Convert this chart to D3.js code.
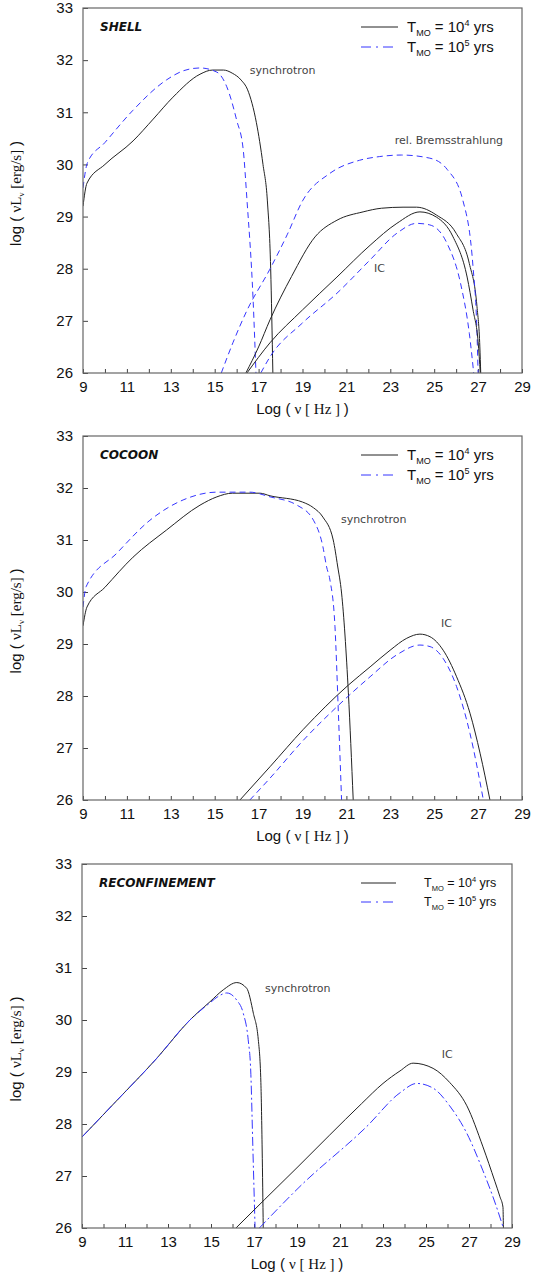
<!DOCTYPE html>
<html>
<head>
<meta charset="utf-8">
<script src="https://cdn.jsdelivr.net/npm/d3@7"></script>
<style>
  body { margin: 0; background: #fff; }
  svg { display: block; }
  .tick text { font-family: "Liberation Sans", Arial, sans-serif; font-size: 15px; fill: #111; }
  .tick line { stroke: #444; }
  .lbl { font-family: "DejaVu Sans", Verdana, sans-serif; font-size: 11px; fill: #444; }
  .ptitle { font-family: "DejaVu Sans", Verdana, sans-serif; font-size: 12px; font-weight: bold; font-style: italic; fill: #111; }
  .sans { font-family: "Liberation Sans", Arial, sans-serif; }
  .serif { font-family: "Liberation Serif", "Times New Roman", serif; }
</style>
</head>
<body>
<svg id="chart" width="533" height="1277"></svg>
<script>
// x = log nu [Hz], y = log nuL_nu [erg/s]
const xTicks = d3.range(9, 30);
const yTicks = d3.range(26, 34);
const panelTitles = ["SHELL", "COCOON", "RECONFINEMENT"];
const legendExp = [4, 5]; // T_MO = 10^4 yrs (solid), 10^5 yrs (blue)

// SHELL
const shellSync4 = [[9,29.2],[9.18,29.64],[10,30.0],[11.28,30.45],[12.2,30.87],[13.1,31.29],[14.33,31.73],[14.9,31.81],[15.4,31.81],[15.8,31.75],[16.2,31.62],[16.5,31.43],[16.9,30.8],[17.2,30.0],[17.4,29.3],[17.55,28.0],[17.65,26]];
const shellSync5 = [[9,29.55],[9.2,30.03],[10,30.42],[11.28,31.04],[12.8,31.62],[13.6,31.8],[14.33,31.85],[15.1,31.77],[15.55,31.49],[16.0,30.85],[16.3,30.28],[16.47,29.32],[16.75,27.4],[16.88,26]];
const shellBrem4 = [[16.42,26],[17.0,26.5],[17.52,27.02],[18.5,27.85],[19.57,28.61],[20.57,28.93],[21.76,29.09],[22.6,29.16],[23.58,29.18],[24.2,29.18],[25.1,29.03],[26.0,28.68],[26.6,28.1],[26.95,27.27],[27.08,26.5],[27.12,26]];
const shellBrem5 = [[15.3,26],[15.83,26.58],[16.47,27.2],[17.5,27.98],[18.3,28.65],[19.0,29.3],[20.25,29.83],[21.6,30.08],[22.5,30.15],[23.5,30.18],[24.8,30.12],[25.6,29.9],[26.3,29.32],[26.77,28.03],[26.95,26.76],[27.0,26]];
const shellIC4 = [[16.47,26],[17.52,26.58],[19.0,27.21],[20.57,27.84],[22.08,28.45],[23.3,28.87],[24.35,29.09],[25.1,28.99],[25.86,28.61],[26.5,27.84],[26.77,27.21],[27.0,26.6],[27.1,26]];
const shellIC5 = [[17.1,26],[17.52,26.31],[19.0,26.96],[20.57,27.53],[22.08,28.17],[23.3,28.68],[24.2,28.87],[24.8,28.84],[25.58,28.49],[26.2,27.72],[26.6,26.76],[26.8,26]];
const shellLabels = [["synchrotron",16.6,31.73],["rel. Bremsstrahlung",23.2,30.39],["IC",22.26,27.94]];

// COCOON
const cocoonSync4 = [[9,29.35],[9.18,29.71],[10,30.09],[11.28,30.67],[12.8,31.19],[14.33,31.67],[15.1,31.83],[15.8,31.9],[17.06,31.9],[17.52,31.85],[19.0,31.73],[19.5,31.62],[19.93,31.44],[20.4,31.0],[20.6,30.5],[20.78,29.98],[21.09,28.06],[21.31,26]];
const cocoonSync5 = [[9,29.71],[9.14,30.1],[10.55,30.75],[12.05,31.38],[13.56,31.77],[15.1,31.92],[16.6,31.92],[17.52,31.83],[18.75,31.67],[19.5,31.38],[19.93,30.87],[20.1,30.48],[20.25,30.23],[20.48,29.33],[20.63,27.73],[20.78,26]];
const cocoonIC4 = [[16.15,26],[17.52,26.64],[19.04,27.36],[21.09,28.21],[22.08,28.56],[22.99,28.88],[23.75,29.11],[24.35,29.19],[24.81,29.14],[25.41,28.88],[26.02,28.37],[26.63,27.67],[27.09,26.9],[27.54,26]];
const cocoonIC5 = [[16.6,26],[17.52,26.42],[19.04,27.15],[20.56,27.79],[22.08,28.37],[23.29,28.79],[24.35,28.98],[24.81,28.95],[25.41,28.72],[26.02,28.18],[26.63,27.28],[27.24,26]];
const cocoonLabels = [["synchrotron",20.75,31.33],["IC",25.31,29.33]];

// RECONFINEMENT
const reconSync4 = [[9,27.75],[10.5,28.4],[12.47,29.26],[14.02,30.0],[14.95,30.35],[15.57,30.58],[16.2,30.72],[16.66,30.61],[16.97,30.13],[17.2,29.62],[17.32,28.8],[17.38,27.5],[17.43,26]];
const reconSync5 = [[9,27.75],[10.5,28.4],[12.47,29.26],[14.02,30.0],[14.95,30.33],[15.4,30.47],[15.73,30.52],[16.2,30.38],[16.5,30.13],[16.73,29.62],[16.85,29.0],[16.95,27.5],[17.05,26]];
const reconIC4 = [[16.16,26],[17.5,26.55],[19.0,27.16],[20.5,27.78],[22.0,28.39],[23.0,28.78],[23.79,29.02],[24.4,29.17],[25.33,29.07],[26.1,28.8],[26.9,28.35],[27.65,27.56],[28.2,26.9],[28.44,26.6],[28.58,26.4],[28.6,26]];
const reconIC5 = [[17.25,26],[19.14,26.8],[22.24,27.95],[23.79,28.6],[24.57,28.78],[25.33,28.69],[26.1,28.35],[26.9,27.82],[27.65,27.1],[28.2,26.5],[28.6,26]];
const reconLabels = [["synchrotron",17.51,30.54],["IC",25.73,29.27]];

const BLACK = "#222", BLUE = "#3535ff";

const panels = [
  {title: panelTitles[0], left: 83, right: 522, top: 8, bottom: 373, dash: "6,4",
   curves: [[shellSync4,0],[shellSync5,1],[shellBrem4,0],[shellBrem5,1],[shellIC4,0],[shellIC5,1]],
   labels: shellLabels, legLine: [361, 398], legText: 407, legFont: 15, legRows: [19, 39]},
  {title: panelTitles[1], left: 83, right: 522, top: 436, bottom: 800, dash: "6,4",
   curves: [[cocoonSync4,0],[cocoonSync5,1],[cocoonIC4,0],[cocoonIC5,1]],
   labels: cocoonLabels, legLine: [361, 398], legText: 407, legFont: 15, legRows: [19, 39]},
  {title: panelTitles[2], left: 82, right: 512, top: 864, bottom: 1228, dash: "9,3,2,3",
   curves: [[reconSync4,0],[reconSync5,1],[reconIC4,0],[reconIC5,1]],
   labels: reconLabels, legLine: [361, 396], legText: 424, legFont: 12.5, legRows: [19, 38]}
];

const svg = d3.select("#chart");

panels.forEach((p, i) => drawPanel(p, i));

function drawPanel(p, i) {
  const x = d3.scaleLinear().domain([9, 29]).range([p.left, p.right]);
  const y = d3.scaleLinear().domain([26, 33]).range([p.bottom, p.top]);
  const g = svg.append("g");

  g.append("defs").append("clipPath")
    .attr("id", "clip" + i)
    .append("rect")
    .attr("x", p.left).attr("y", p.top)
    .attr("width", p.right - p.left).attr("height", p.bottom - p.top);

  // axes, ticks inward
  g.append("g")
    .attr("transform", `translate(0,${p.bottom})`)
    .call(d3.axisBottom(x).tickValues(xTicks).tickSize(-4).tickPadding(8)
      .tickFormat(d => d % 2 ? d : ""))
    .call(a => a.select(".domain").remove());

  g.append("g")
    .attr("transform", `translate(${p.left},0)`)
    .call(d3.axisLeft(y).tickValues(yTicks).tickSize(-5).tickPadding(10)
      .tickFormat(d3.format("d")))
    .call(a => a.select(".domain").remove());

  // curves
  const line = d3.line()
    .x(d => x(d[0]))
    .y(d => y(d[1]))
    .curve(d3.curveMonotoneX);

  g.append("g").attr("clip-path", `url(#clip${i})`)
    .selectAll("path")
    .data(p.curves)
    .join("path")
    .attr("d", d => line(d[0]))
    .attr("fill", "none")
    .attr("stroke", d => d[1] ? BLUE : BLACK)
    .attr("stroke-width", 1)
    .attr("stroke-dasharray", d => d[1] ? p.dash : null);

  // frame
  g.append("rect")
    .attr("x", p.left).attr("y", p.top)
    .attr("width", p.right - p.left).attr("height", p.bottom - p.top)
    .attr("fill", "none")
    .attr("stroke", "#666")
    .attr("stroke-width", 1.2);

  // curve labels
  g.selectAll(".lbl")
    .data(p.labels)
    .join("text")
    .attr("class", "lbl")
    .attr("x", d => x(d[1]))
    .attr("y", d => y(d[2]))
    .text(d => d[0]);

  // panel title
  g.append("text")
    .attr("class", "ptitle")
    .attr("x", p.left + 17)
    .attr("y", p.top + 23)
    .text(p.title);

  // legend
  legendExp.forEach((e, k) => {
    const ry = p.top + p.legRows[k];
    g.append("line")
      .attr("x1", p.legLine[0]).attr("x2", p.legLine[1])
      .attr("y1", ry).attr("y2", ry)
      .attr("stroke", k ? BLUE : BLACK)
      .attr("stroke-width", 1)
      .attr("stroke-dasharray", k ? "10,5,2,5" : null);
    const fs = p.legFont, small = fs * 0.6;
    const t = g.append("text")
      .attr("class", "sans")
      .attr("x", p.legText)
      .attr("y", ry + fs * 0.35)
      .attr("font-size", fs)
      .attr("fill", "#111");
    t.append("tspan").text("T");
    t.append("tspan").attr("font-size", small).attr("dy", fs * 0.28).text("MO");
    t.append("tspan").attr("dy", -fs * 0.28).text(" = 10");
    t.append("tspan").attr("font-size", small).attr("dy", -fs * 0.45).text(e);
    t.append("tspan").attr("dy", fs * 0.45).text(" yrs");
  });

  // x title
  const xt = g.append("text")
    .attr("x", (p.left + p.right) / 2)
    .attr("y", p.bottom + 41)
    .attr("text-anchor", "middle")
    .attr("font-size", 15)
    .attr("fill", "#111");
  xt.append("tspan").attr("class", "sans").text("Log ( ");
  xt.append("tspan").attr("class", "serif").text("\u03bd [ Hz ] ");
  xt.append("tspan").attr("class", "sans").text(")");

  // y title
  const yt = g.append("text")
    .attr("transform", `translate(21,${(p.top + p.bottom) / 2 + 3}) rotate(-90)`)
    .attr("text-anchor", "middle")
    .attr("font-size", 15)
    .attr("fill", "#111");
  yt.append("tspan").attr("class", "sans").text("log ( ");
  yt.append("tspan").attr("class", "serif").text("\u03bdL");
  yt.append("tspan").attr("class", "serif").attr("font-size", 9).attr("dy", 3).text("\u03bd");
  yt.append("tspan").attr("class", "serif").attr("dy", -3).text(" [erg/s] ");
  yt.append("tspan").attr("class", "sans").text(")");
}
</script>
</body>
</html>
